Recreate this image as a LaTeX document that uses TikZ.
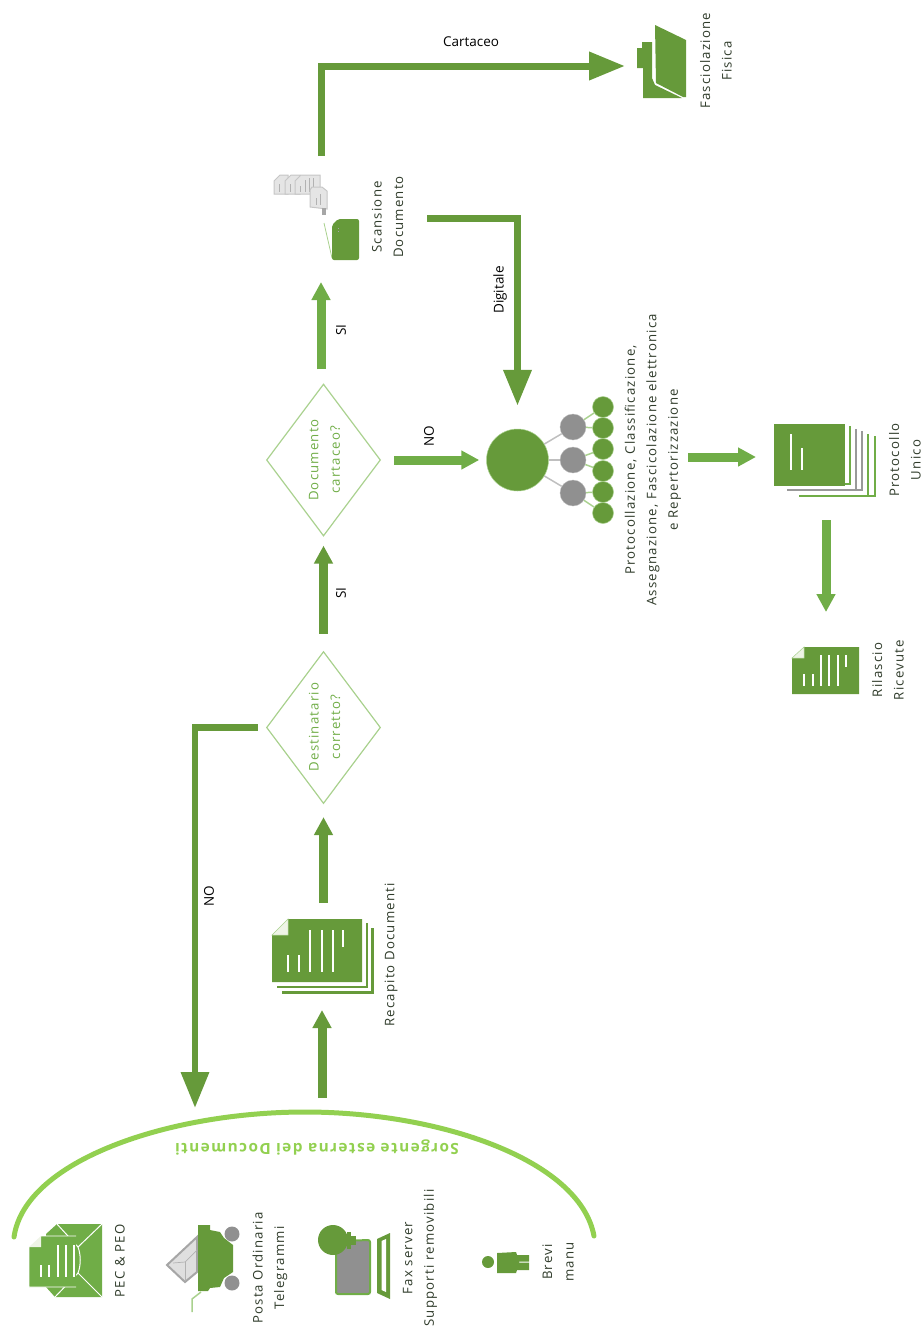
\documentclass[tikz,border=0pt]{standalone}
\usepackage{fontspec}
\setmainfont[LetterSpace=9]{Open Sans}
\newfontfamily\plainfont{Open Sans}
\usetikzlibrary{arrows.meta, shapes.geometric}
\definecolor{scuro}{HTML}{669A3A}
\definecolor{medio}{HTML}{70AD47}
\definecolor{chiaro}{HTML}{92D050}
\definecolor{bordo}{HTML}{A9D18E}
\definecolor{grigio}{HTML}{909090}
\definecolor{inchiostro}{HTML}{2F3B2A}
\definecolor{piega}{HTML}{EEF4E6}
\tikzset{
    freccia/.style={line width=9pt, -{Triangle[width=18pt, length=18pt]}},
    freccialunga/.style={line width=7pt, scuro, -{Triangle[width=27pt, length=36pt]}},
    scelta/.style={diamond, draw=bordo, line width=1.2pt, inner sep=0pt, minimum width=114pt, minimum height=152pt},
    icona/.style={inner sep=0pt, outer sep=0pt},
    testo/.style={rotate=90, align=center, inner sep=0pt, text=inchiostro, font=\fontsize{13.2pt}{21.5pt}\selectfont},
    etichetta/.style={inner sep=0pt, text=black, font=\plainfont\fontsize{13.5pt}{15pt}\selectfont},
    domanda/.style={testo, text=medio},
    perno/.style={circle, fill=grigio, draw=grigio!60, inner sep=0pt, minimum size=26pt},
    foglia/.style={circle, fill=scuro, draw=bordo, line width=0.5pt, inner sep=0pt, minimum size=21pt},
    barra/.style={white, line width=1.8pt},
    barretta/.style={white, line width=1.4pt},
    lineetta/.style={gray!60, line width=0.6pt}
}
\begin{document}
\begin{tikzpicture}[x=1pt, y=-1pt]
        \useasboundingbox (0, 0) rectangle (922, 1328);

        \node[icona, minimum width=102pt, minimum height=107pt] (recapito) at (322, 956.5) {};
        \node[icona, minimum width=124pt, minimum height=124pt] (scansione) at (321, 220) {};
        \node[icona, minimum width=63pt, minimum height=64pt] (fascicolo) at (656.5, 66) {};
        \node[icona, minimum width=104pt, minimum height=78pt] (protocollo) at (826, 457) {};
        \node[icona, minimum width=68pt, minimum height=47pt] (ricevute) at (826, 670.5) {};

        \node[scelta] (destinatario) at (323.5, 727.5) {};
        \node[scelta] (documento) at (323.5, 460) {};
        \node[domanda] (destinatariot) at (324.5, 727) {Destinatario\\corretto?};
        \node[domanda] (documentot) at (324.5, 460) {Documento\\cartaceo?};

        \node[circle, fill=scuro, draw=bordo, line width=0.5pt, inner sep=0pt, minimum size=62pt] (hub) at (517.5, 460) {};
        \node[perno] (p1) at (573, 427) {};
        \node[perno] (p2) at (573, 460) {};
        \node[perno] (p3) at (573, 493) {};
        \node[foglia] (f1) at (603, 407) {};
        \node[foglia] (f2) at (603, 428) {};
        \node[foglia] (f3) at (603, 449) {};
        \node[foglia] (f4) at (603, 471) {};
        \node[foglia] (f5) at (603, 492) {};
        \node[foglia] (f6) at (603, 513) {};

        \draw [gray!50, line width=1.5pt] (hub) -- (p1);
        \draw [gray!50, line width=1.5pt] (hub) -- (p2);
        \draw [gray!50, line width=1.5pt] (hub) -- (p3);
        \draw [bordo, line width=1.5pt] (p1) -- (f1);
        \draw [bordo, line width=1.5pt] (p1) -- (f2);
        \draw [bordo, line width=1.5pt] (p2) -- (f3);
        \draw [bordo, line width=1.5pt] (p2) -- (f4);
        \draw [bordo, line width=1.5pt] (p3) -- (f5);
        \draw [bordo, line width=1.5pt] (p3) -- (f6);

        \coordinate (uscita) at (322, 1098);
        \coordinate (ritorno) at (195, 1108);
        \coordinate (digitale) at (427, 218);
        \coordinate (attivita) at (688, 457);

        \draw [freccia, scuro] (uscita) -- (recapito.south);
        \draw [freccia, scuro, shorten >=13pt] (destinatario.south |- recapito.north) -- (destinatario.south);
        \draw [freccia, scuro, shorten <=17pt, shorten >=9pt] (destinatario.north) -- (documento.south);
        \draw [freccia, medio, shorten <=14pt] (scansione.south |- documento.north) -- (scansione.south);
        \draw [freccia, medio, shorten <=13pt, shorten >=7pt] (documento.east) -- (hub.west);
        \draw [freccia, medio, shorten >=18pt] (attivita) -- (protocollo.west);
        \draw [freccia, medio, shorten <=24pt, shorten >=35pt] (protocollo.south) -- (ricevute.north);
        \draw [freccialunga, line width=6.5pt, shorten <=8pt] (destinatario.west) -| (ritorno);
        \draw [freccialunga, shorten >=23pt] (digitale) -| (hub.north);
        \draw [freccialunga, shorten <=2pt] (scansione.north) |- (fascicolo.west);

        \node[etichetta, rotate=90] (no1) at (209, 896) {NO};
        \node[etichetta, rotate=90] (si1) at (341, 593) {SI};
        \node[etichetta, rotate=90] (si2) at (341, 330) {SI};
        \node[etichetta, rotate=90] (no2) at (429, 436) {NO};
        \node[etichetta, rotate=90] (dig) at (500, 290) {Digitale};
        \node[etichetta] (car) at (471, 42) {Cartaceo};

        \draw [chiaro, line width=5pt, line cap=round] (14, 1237) .. controls (25, 1160) and (170, 1112) .. (305, 1112) .. controls (440, 1112) and (580, 1160) .. (594, 1236);
        \node[rotate=180, inner sep=0pt, text=chiaro, font=\bfseries\fontsize{15.4pt}{17pt}\selectfont] (sorgente) at (317, 1147) {Sorgente esterna dei Documenti};

        \fill [medio] (57, 1224) -- (102, 1224) -- (102, 1297) -- (55, 1297) -- (46, 1287) -- (46, 1234) -- cycle;
        \draw [white, line width=1pt] (57, 1224) -- (78, 1247) -- (102, 1224);
        \draw [white, line width=1pt] (55, 1297) -- (78, 1273) -- (102, 1297);
        \draw [white, line width=1pt] (78, 1247) .. controls (81, 1255) and (81, 1265) .. (78, 1273);
        \fill [medio] (29, 1247) -- (41, 1247) -- (41, 1236) -- (76, 1236) -- (76, 1287) -- (29, 1287) -- cycle;
        \draw [white, line width=0.8pt] (76, 1236) -- (41, 1236) -- (29, 1247) -- (29, 1287) -- (76, 1287);
        \fill [piega] (29, 1247) -- (41, 1236) -- (41, 1247) -- cycle;
        \draw [barretta] (41, 1265) -- (41, 1277);
        \draw [barretta] (49, 1265) -- (49, 1277);
        \draw [barretta] (58, 1245) -- (58, 1277);
        \draw [barretta] (66, 1245) -- (66, 1277);
        \draw [barretta] (74, 1245) -- (74, 1277);
        \node[testo] (pec) at (120, 1261) {PEC \& PEO};

        \fill [gray!25, draw=gray!70, line width=2pt] (167, 1265) -- (197, 1237) -- (197, 1272) -- (185, 1282) -- cycle;
        \draw [gray!60, line width=0.7pt] (173, 1263) -- (185, 1262) -- (197, 1250);
        \draw [gray!60, line width=0.7pt] (185, 1262) -- (185, 1281);
        \fill [scuro] (198, 1225) -- (210, 1225) -- (210, 1230) -- (220, 1232) -- (224, 1238) -- (233, 1245) -- (233, 1272) -- (224, 1278) -- (220, 1287) -- (210, 1288) -- (208, 1291) -- (198, 1291) -- cycle;
        \fill [grigio] (232, 1234) circle (7.5);
        \fill [grigio] (232, 1283) circle (7.5);
        \draw [bordo, line width=1.5pt] (201, 1292) -- (192, 1299) -- (192, 1312);
        \node[testo] (posta) at (270, 1268) {Posta Ordinaria\\Telegrammi};

        \fill [grigio, draw=medio, line width=2pt, rounded corners=2pt] (336, 1241) -- (370, 1240) -- (370, 1294) -- (336, 1294) -- cycle;
        \fill [scuro] (333, 1240) circle (15);
        \fill [scuro] (347, 1232) rectangle (351, 1249);
        \fill [scuro] (351, 1236) rectangle (356, 1245);
        \fill [scuro] (377, 1239) -- (390, 1233) -- (390, 1299) -- (377, 1293) -- cycle;
        \fill [white] (381.5, 1241) -- (386, 1239) -- (386, 1292) -- (381.5, 1290) -- cycle;
        \node[testo] (fax) at (420, 1258) {Fax server\\Supporti removibili};

        \fill [scuro] (488, 1262) circle (6);
        \fill [scuro] (497, 1253) -- (516, 1252) -- (517, 1255) -- (529, 1255) -- (529, 1261.5) -- (519, 1261.5) -- (519, 1262.5) -- (529, 1262.5) -- (529, 1270) -- (517, 1270) -- (516, 1273) -- (497, 1273) -- cycle;
        \node[testo] (brevi) at (558, 1262) {Brevi\\manu};

        \fill [scuro] (272, 935) -- (288, 935) -- (288, 919) -- (362, 919) -- (362, 982) -- (272, 982) -- cycle;
        \fill [piega, draw=bordo, line width=0.5pt] (272, 935) -- (288, 919) -- (288, 935) -- cycle;
        \draw [scuro, line width=2.5pt] (277, 987) -- (367, 987) -- (367, 923);
        \draw [scuro, line width=2.5pt] (282, 992.5) -- (372.5, 992.5) -- (372.5, 928);
        \draw [barra] (288, 955) -- (288, 972);
        \draw [barra] (299, 955) -- (299, 972);
        \draw [barra] (310, 930) -- (310, 972);
        \draw [barra] (322, 930) -- (322, 972);
        \draw [barra] (333, 930) -- (333, 972);
        \draw [barra] (343, 930) -- (343, 947);
        \node[testo] (recapitot) at (391, 955) {Recapito Documenti};

        \fill [gray!20, draw=gray!45, line width=1pt] (274, 181) -- (280, 175) -- (288, 175) -- (288, 194) -- (274, 194) -- cycle;
        \fill [gray!20, draw=gray!45, line width=1pt] (285, 181) -- (291, 175) -- (300, 175) -- (300, 194) -- (285, 194) -- cycle;
        \fill [gray!20, draw=gray!45, line width=1pt] (295, 181) -- (301, 175) -- (320, 175) -- (320, 194) -- (295, 194) -- cycle;
        \draw [lineetta] (279, 184) -- (279, 192);
        \draw [lineetta] (290, 184) -- (290, 192);
        \draw [lineetta] (300, 186) -- (300, 192);
        \draw [lineetta] (305, 180) -- (305, 192);
        \draw [lineetta] (309, 178) -- (309, 192);
        \draw [lineetta] (313, 178) -- (313, 192);
        \fill [gray!20, draw=gray!45, line width=1pt] (310, 190) -- (312, 187) -- (322, 187) -- (327, 191) -- (327, 209) -- (310, 207) -- cycle;
        \draw [lineetta] (316, 198) -- (316, 205);
        \draw [lineetta] (320, 194) -- (320, 205);
        \fill [gray!70] (322, 208) rectangle (326, 215);
        \draw [bordo, line width=0.8pt] (324, 223) -- (332, 258);
        \fill [scuro, rounded corners=2pt] (338, 219) -- (359, 219) -- (359, 260) -- (332, 260) -- (332, 225) -- cycle;
        \draw [gray!70, line width=1pt, dotted] (338, 228) -- (338, 234);
        \node[testo] (scansionet) at (387.5, 217) {Scansione\\Documento};

        \fill [scuro] (655, 25) -- (686, 40) -- (686, 97) -- (683, 97) -- (656, 83) -- cycle;
        \fill [scuro] (637, 48) -- (642, 48) -- (642, 42) -- (652, 42) -- (652, 78) -- (655, 85) -- (682, 98) -- (643, 98) -- (643, 68) -- (637, 68) -- cycle;
        \node[testo] (fascicolot) at (716, 61) {Fasciolazione\\Fisica};

        \node[testo] (attivitat) at (653, 460) {Protocollazione,  Classificazione,\\Assegnazione, Fascicolazione elettronica\\e Repertorizzazione};

        \draw [gray!80, line width=1.8pt] (856, 429) -- (856, 490) -- (787, 490);
        \draw [gray!80, line width=1.8pt] (862, 431) -- (862, 490) -- (856, 490);
        \draw [medio, line width=1.8pt] (868, 434) -- (868, 496) -- (799, 496);
        \draw [medio, line width=1.8pt] (875, 436) -- (875, 496) -- (868, 496);
        \draw [medio, line width=2pt] (850, 426) -- (850, 484) -- (845, 484);
        \fill [scuro] (774, 424) rectangle (845, 486);
        \draw [barra] (791, 434) -- (791, 470);
        \draw [barra] (802, 448) -- (802, 470);
        \node[testo] (protocollot) at (905, 460) {Protocollo\\Unico};

        \fill [scuro] (792, 658) -- (804, 658) -- (804, 647) -- (859, 647) -- (859, 694) -- (792, 694) -- cycle;
        \fill [piega, draw=bordo, line width=0.5pt] (792, 658) -- (804, 647) -- (804, 658) -- cycle;
        \draw [barretta] (804, 674) -- (804, 686);
        \draw [barretta] (813, 674) -- (813, 686);
        \draw [barretta] (821, 655) -- (821, 686);
        \draw [barretta] (829, 655) -- (829, 686);
        \draw [barretta] (838, 655) -- (838, 686);
        \draw [barretta] (846, 655) -- (846, 667);
        \node[testo] (ricevutet) at (888, 670) {Rilascio\\Ricevute};
    \end{tikzpicture}
\end{document}
